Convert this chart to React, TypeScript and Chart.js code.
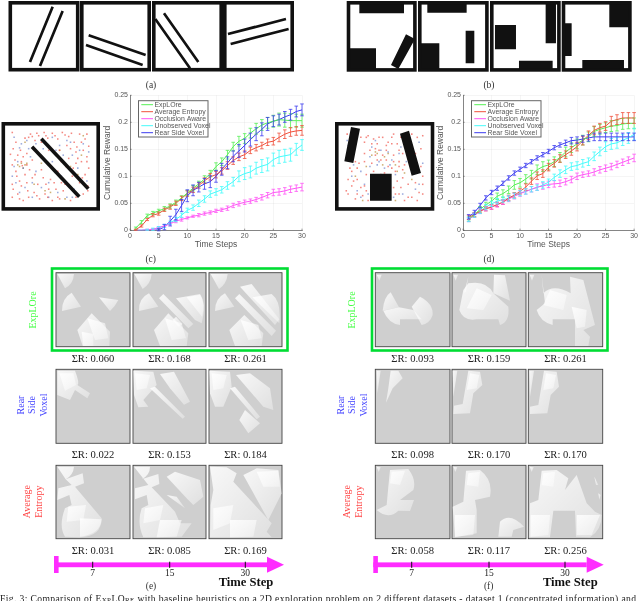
import React, { useEffect, useRef } from "react";
import { Chart, registerables } from "chart.js";

Chart.register(...registerables);

const timeSteps = [1,2,3,4,5,6,7,8,9,10,11,12,13,14,15,16,17,18,19,20,21,22,23,24,25,26,27,28,29,30];
const seriesNames = ["ExpLOre", "Average Entropy", "Occlusion Aware", "Unobserved Voxel", "Rear Side Voxel"];
const seriesColors = ["#55f055", "#f0503c", "#ff55f5", "#44fbfb", "#3c3cf0"];
const yTickLabels: Record<string, string> = { "0": "0", "0.05": "0.05", "0.1": "0.1", "0.15": "0.15", "0.2": "0.2", "0.25": "0.25" };

const cExplore = [.004,.015,.027,.032,.036,.04,.045,.052,.06,.069,.078,.086,.095,.105,.118,.127,.14,.155,.165,.17,.18,.188,.195,.199,.202,.205,.204,.203,.203,.203];
const cEntropy = [.001,.008,.02,.028,.031,.038,.043,.05,.059,.068,.075,.083,.092,.099,.103,.11,.12,.129,.136,.14,.148,.153,.157,.163,.165,.172,.178,.182,.184,.185];
const cOcclusion = [0,0,.001,.002,.005,.008,.012,.017,.02,.023,.026,.028,.031,.033,.036,.038,.041,.046,.049,.052,.054,.057,.061,.065,.07,.071,.073,.076,.078,.08];
const cUnobserved = [0,0,.001,.002,.005,.008,.014,.02,.028,.037,.042,.05,.058,.067,.071,.075,.083,.09,.1,.105,.108,.115,.119,.122,.131,.136,.138,.14,.15,.158];
const cRear = [0,0,0,0,.001,.006,.017,.029,.046,.064,.074,.08,.086,.09,.1,.113,.125,.137,.147,.157,.168,.178,.187,.197,.202,.205,.21,.214,.22,.223];

const cExploreErr = [.002,.003,.003,.003,.003,.004,.004,.004,.004,.005,.005,.005,.006,.006,.007,.007,.008,.008,.009,.009,.009,.01,.01,.01,.011,.012,.013,.013,.012,.012];
const cEntropyErr = [.001,.002,.002,.003,.003,.003,.004,.004,.004,.005,.005,.005,.005,.006,.006,.006,.007,.007,.007,.007,.006,.006,.006,.006,.007,.008,.008,.008,.008,.009];
const cOcclusionErr = [0,0,.001,.001,.002,.002,.002,.003,.003,.002,.002,.003,.003,.003,.003,.003,.004,.004,.004,.004,.004,.004,.005,.005,.006,.006,.006,.006,.006,.007];
const cUnobservedErr = [0,0,.001,.002,.002,.003,.003,.004,.004,.004,.005,.006,.006,.006,.006,.006,.007,.008,.01,.011,.011,.011,.012,.012,.012,.012,.012,.012,.011,.01];
const cRearErr = [0,0,0,0,.002,.005,.009,.01,.011,.011,.01,.009,.01,.011,.011,.011,.011,.01,.012,.012,.012,.012,.012,.012,.01,.01,.01,.01,.01,.011];

const dExplore = [.021,.029,.039,.047,.054,.063,.068,.075,.084,.088,.095,.103,.112,.118,.121,.127,.135,.145,.153,.16,.167,.173,.183,.187,.19,.193,.194,.197,.198,.198];
const dEntropy = [.024,.029,.036,.04,.043,.048,.052,.06,.065,.072,.08,.091,.101,.105,.117,.124,.133,.14,.147,.155,.166,.176,.185,.19,.193,.202,.205,.208,.208,.208];
const dOcclusion = [.02,.028,.035,.04,.043,.047,.052,.058,.063,.068,.072,.076,.08,.082,.085,.086,.087,.09,.094,.1,.103,.105,.108,.112,.115,.118,.122,.126,.13,.134];
const dUnobserved = [.02,.028,.036,.043,.049,.054,.057,.059,.064,.069,.072,.076,.079,.084,.089,.098,.105,.112,.118,.12,.124,.127,.137,.146,.155,.16,.162,.167,.171,.178];
const dRear = [.025,.033,.046,.06,.07,.078,.087,.097,.106,.113,.12,.127,.134,.14,.146,.153,.158,.162,.166,.167,.169,.171,.173,.173,.173,.173,.173,.173,.173,.173];

const dExploreErr = [.004,.004,.005,.005,.006,.006,.007,.007,.008,.008,.008,.008,.009,.009,.009,.009,.009,.009,.009,.009,.009,.009,.009,.009,.009,.01,.01,.01,.01,.01];
const dEntropyErr = [.004,.004,.004,.004,.004,.004,.004,.005,.005,.005,.006,.006,.007,.007,.007,.007,.007,.007,.008,.008,.008,.008,.008,.008,.008,.009,.009,.01,.01,.01];
const dOcclusionErr = [.004,.004,.004,.004,.004,.004,.004,.005,.005,.005,.005,.005,.006,.006,.006,.006,.006,.006,.006,.006,.005,.005,.006,.006,.006,.006,.006,.006,.006,.007];
const dUnobservedErr = [.004,.004,.005,.005,.005,.005,.005,.005,.005,.005,.005,.005,.005,.006,.006,.006,.007,.007,.007,.007,.007,.007,.008,.008,.009,.01,.01,.01,.01,.011];
const dRearErr = [.004,.004,.004,.004,.004,.004,.004,.004,.004,.004,.004,.004,.004,.004,.004,.004,.004,.005,.006,.006,.006,.006,.007,.007,.007,.007,.007,.007,.007,.007];

// scatter positions in percent of the framed map
const cRed = [8,8,12,20,26,14,30,13,33,18,37,12,40,20,43,8,47,15,52,9,58,16,63,8,70,13,76,20,82,10,88,16,92,25,86,30,78,32,72,28,90,38,84,44,78,46,92,52,70,40,67,50,88,60,82,70,91,74,86,84,78,88,72,92,64,80,58,88,52,92,44,84,38,90,32,82,26,88,20,92,14,84,9,78,16,68,22,60,12,56,8,48,18,44,24,48,30,42,24,34,14,36,9,28,30,64,36,72,42,64,48,78,54,70,40,54,58,56,48,30,56,36,62,44,74,62,66,72,
  28,10,35,9,22,15,45,12,55,12,66,11,73,9,84,20,90,10,79,26,68,24,60,30,17,30,11,42,20,38,6,35,19,49,27,54,13,62,8,72,18,74,24,70,33,60,45,72,50,66,56,78,62,70,60,90,47,88,35,86,25,80,16,90,8,88,91,80,85,64,90,44,80,40,75,52];
const cBlue = [10,14,16,27,24,18,34,22,42,28,52,14,60,24,68,18,74,36,86,22,80,52,90,68,76,78,68,88,58,82,48,88,40,76,30,88,22,76,12,70,8,62,20,52,28,38,14,44,52,44,62,62,34,56,
  56,30,64,36,72,20,82,30,18,22,26,28,10,50,92,32,30,70,48,70,74,88,16,82];
const cTan = [16,50,20,52,24,46,72,50,80,60,40,46,50,82,32,72,84,36,60,30,22,20,18,46,22,48,14,48,44,80,66,90,86,12];
const dRed = [9,10,24,14,28,20,32,12,38,16,42,22,48,14,54,20,60,10,68,14,74,24,80,10,86,14,92,12,90,28,84,34,28,34,34,30,40,36,46,42,52,30,60,36,66,44,70,54,62,56,54,50,46,60,38,56,30,60,20,52,14,56,10,66,14,74,10,84,18,90,26,86,32,92,28,74,20,66,64,68,60,76,66,84,72,92,80,88,88,82,92,72,84,70,76,72,70,64,92,62,52,42,44,30,58,22,66,30,22,46,
  30,14,36,22,44,14,52,24,58,14,64,22,70,34,78,44,72,48,66,50,58,52,50,58,42,42,36,46,28,44,18,44,12,52,16,68,8,80,20,84,30,80,90,50,92,84,86,92,76,88,68,76,62,84,24,76,60,44,48,36,40,28];
const dBlue = [9,18,10,24,36,26,46,30,58,42,50,52,42,48,34,50,24,56,16,48,28,72,32,84,20,80,62,60,74,44,68,26,78,20,88,20,92,46,84,78,60,88,
  44,44,56,48,66,34,34,38,14,62,24,88,70,84,88,72,40,18,54,32];
const dTan = [36,36,42,34,54,34,62,48,72,58,48,48,18,62,26,92,62,92,80,66,40,32,50,38,64,56,30,50];

// obstacle outlines, in page pixels
const mapObstaclesC = ["M41.3,138.7L88.3,188.7", "M32,146.7L79.3,196.7"];

const fan = "url(#fan)";

// explored patches, drawn in a 3x grid of each block's origin
const leftTop: string[] = [
  "M172,42L222,42Q220,72 195,85Z",
  "M243,140L215,98Q185,115 186,153Z",
  "M297,112L355,120Q345,140 330,153Z",
  "M275,160L330,215L328,258L248,258L232,210Z",
  "M262,175L315,190L325,235L285,240Z",
  "M245,215L280,222L280,258L250,258Z",
  "M403,42L455,42Q452,72 428,87Z",
  "M475,140L447,100Q415,115 417,153Z",
  "M490,102L580,192L565,205L477,115Z",
  "M528,170L548,192L535,200L518,180Z",
  "M528,115L600,102Q620,130 605,190L585,180Z",
  "M560,112L600,104Q618,130 606,170Z",
  "M505,160L565,220L560,258L480,258L462,210Z",
  "M495,175L545,190L558,235L515,240Z",
  "M632,42L683,42Q680,72 657,87Z",
  "M703,140L675,100Q645,115 645,153Z",
  "M720,80L755,72L838,178L825,195Z",
  "M718,102L828,212L815,228L705,115Z",
  "M757,112L815,102Q845,125 838,190Z",
  "M733,165L790,220L785,258L705,258L688,210Z",
  "M722,180L775,195L785,235L745,240Z",
  "M172,332L225,332Q240,370 232,375L270,400L262,415L225,390L210,420L172,405Z",
  "M178,340L220,340L228,375L195,392Z",
  "M400,332L460,335L470,375L430,420L445,440L415,442L402,405Z",
  "M405,340L450,345L440,385L410,390Z",
  "M480,342L522,335L570,425L552,434L510,385Z",
  "M450,385L465,380L555,470L548,476Z",
  "M628,332L690,335L695,380L670,440L645,440L630,400Z",
  "M635,340L680,345L670,385L640,390Z",
  "M708,345L750,340L810,385L820,450L790,440Z",
  "M690,385L705,380L780,470L770,478Z",
  "M735,450L780,490L745,520L718,480Z",
];
const leftBottom: string[] = [
  "M172,80L222,80Q220,105 197,118L248,100L252,130L225,140L305,235Q305,290 240,292L195,290Q175,260 195,205L215,195L208,165L172,180L175,145L215,135L197,118Z",
  "M205,200L258,195L250,240L200,245Z",
  "M240,235L305,238Q300,285 240,290Z",
  "M402,80L450,80Q450,105 425,118L475,102L478,132L455,142L525,215L540,250L575,250L545,290L430,292Q410,250 425,205L445,195L440,165L405,178L405,145L445,135Z",
  "M435,205L490,195L480,240L430,250Z",
  "M480,240L545,240L530,290L470,292Z",
  "M500,110L525,95L600,120L610,170L580,195L560,175Z",
  "M500,165L530,170L555,205Z",
  "M630,80L680,82L710,100L700,125L815,250L800,275L815,292L630,292L632,195L640,150Z",
  "M640,205L700,195L690,250L640,270Z",
  "M690,240L770,240L760,290L690,292Z",
  "M730,105L770,85L835,90L845,160L805,240Z",
  "M770,95L835,92L840,140L790,140Z",
];
const rightTop: string[] = [
  "M170,44L185,44L178,62Z",
  "M237,142L212,97Q192,110 188,152Z",
  "M190,152L237,142L280,150L305,178L240,178L240,195Q205,190 190,152Z",
  "M275,140L300,110Q340,130 338,165Q330,190 305,195Z",
  "M400,44L414,44L407,62Z",
  "M445,70Q500,60 520,100L565,140Q570,185 540,195L535,178L470,178Q430,185 418,150L430,90Z",
  "M470,85L515,105L490,150L440,145Z",
  "M522,44L555,46L570,122L520,100Z",
  "M438,95L445,50L432,98Z",
  "M629,44L643,44L636,62Z",
  "M665,44L675,130L650,150Q660,185 698,195L698,178L765,178L765,258L805,258L810,230L790,210L825,195L790,60L750,50L752,100Q700,70 670,100Z",
  "M690,90L740,105L730,150L670,135Z",
  "M755,140L800,150L795,200L770,205Z",
];
const rightMiddle: string[] = [
  "M170,332L182,332L172,400Z",
  "M212,332L235,332L248,355L218,385L198,428L205,385Z",
  "M398,332L412,332L400,410Z",
  "M445,332L480,335L487,375L460,400L450,460L400,462L402,437L428,432Z",
  "M450,340L478,345L470,385L440,390Z",
  "M628,332L642,332L630,410Z",
  "M672,332L710,335L717,380L692,405L682,460L630,462L630,440L655,435Z",
  "M678,340L708,345L700,385L670,390Z",
];
const rightBottom: string[] = [
  "M170,80L182,82L176,96Z",
  "M210,90L265,87Q290,120 280,150L240,180L282,180L270,213L235,212Q205,240 170,210L200,195L205,140Z",
  "M215,95L255,92L240,135L210,130Z",
  "M400,80L412,82L406,96Z",
  "M438,92L480,90Q520,120 510,170L465,180L470,210L470,280L405,292L398,200L430,185Z",
  "M445,100L480,95L475,140L440,135Z",
  "M405,225L465,225L460,285L405,290Z",
  "M540,245Q570,215 612,260L580,270L575,290L535,290Z",
  "M629,80L641,82L635,96Z",
  "M665,92L710,90L745,115L735,150L770,105L800,190L825,215L845,225Q845,270 810,292L768,290L765,212L700,212L690,292L628,292L630,190L655,180Z",
  "M670,100L705,95L700,140L665,135Z",
  "M632,225L690,225L685,285L632,290Z",
  "M770,225L840,225L815,285L770,285Z",
  "M823,110L835,135L828,135Z",
  "M835,160L842,165L838,180Z",
];

const panelColumnsLeft = [[56, 130], [133, 206], [209, 282]];
const panelColumnsRight = [[375.3, 450], [452, 526], [528.3, 602.7]];
const panelRows = [[272.7, 346.7], [369.3, 443.3], [465.3, 538.7]];
const scoresLeft = [["0.060", "0.168", "0.261"], ["0.022", "0.153", "0.184"], ["0.031", "0.085", "0.169"]];
const scoresRight = [["0.093", "0.159", "0.261"], ["0.098", "0.170", "0.170"], ["0.058", "0.117", "0.256"]];

const errorBars = {
  id: "errorBars",
  afterDatasetsDraw(chart: any) {
    const { ctx, scales } = chart;
    chart.data.datasets.forEach((ds: any) => {
      ctx.save();
      ctx.strokeStyle = ds.borderColor;
      ctx.lineWidth = 0.8;
      ds.data.forEach((p: any, i: number) => {
        const e = ds.errors[i];
        if (!e) return;
        const x = scales.x.getPixelForValue(p.x);
        const y0 = scales.y.getPixelForValue(p.y - e);
        const y1 = scales.y.getPixelForValue(p.y + e);
        ctx.beginPath();
        ctx.moveTo(x, y0); ctx.lineTo(x, y1);
        ctx.moveTo(x - 1.8, y0); ctx.lineTo(x + 1.8, y0);
        ctx.moveTo(x - 1.8, y1); ctx.lineTo(x + 1.8, y1);
        ctx.stroke();
      });
      ctx.restore();
    });
  },
};

const boxLegend = {
  id: "boxLegend",
  afterDraw(chart: any) {
    const { ctx, chartArea } = chart;
    const left = chartArea.left + 8.5;
    const top = chartArea.top + 5.4;
    ctx.save();
    ctx.fillStyle = "rgba(255,255,255,0.95)";
    ctx.strokeStyle = "#666";
    ctx.lineWidth = 1;
    ctx.fillRect(left, top, 69.5, 36.3);
    ctx.strokeRect(left, top, 69.5, 36.3);
    ctx.font = "6.9px 'Liberation Sans'";
    ctx.textBaseline = "middle";
    chart.data.datasets.forEach((ds: any, i: number) => {
      const y = top + 4 + i * 7;
      ctx.strokeStyle = ds.borderColor;
      ctx.lineWidth = 1;
      ctx.beginPath();
      ctx.moveTo(left + 2.8, y); ctx.lineTo(left + 14.5, y);
      ctx.stroke();
      ctx.fillStyle = "#555";
      ctx.fillText(ds.label, left + 16, y);
    });
    ctx.restore();
  },
};

const innerTicks = {
  id: "innerTicks",
  afterDraw(chart: any) {
    const { ctx, chartArea, scales } = chart;
    ctx.save();
    ctx.strokeStyle = "#555";
    ctx.lineWidth = 0.6;
    ctx.beginPath();
    scales.x.ticks.forEach((t: any) => {
      const x = scales.x.getPixelForValue(t.value);
      ctx.moveTo(x, chartArea.bottom); ctx.lineTo(x, chartArea.bottom - 1.7);
    });
    scales.y.ticks.forEach((t: any) => {
      const y = scales.y.getPixelForValue(t.value);
      ctx.moveTo(chartArea.left, y); ctx.lineTo(chartArea.left + 1.7, y);
    });
    ctx.stroke();
    ctx.restore();
  },
};

function RewardChart({ left, width, paddingRight, series, errors }: { left: number; width: number; paddingRight: number; series: number[][]; errors: number[][] }) {
  const ref = useRef<HTMLCanvasElement>(null);
  useEffect(() => {
    const font = { family: "'Liberation Sans'", size: 7 };
    const grid = { color: "rgba(0,0,0,0.07)", lineWidth: 0.6, drawTicks: false };
    const chart = new Chart(ref.current!, {
      type: "line",
      data: {
        datasets: series.map((values, i) => ({
          label: seriesNames[i],
          data: values.map((y, j) => ({ x: timeSteps[j], y })),
          errors: errors[i],
          borderColor: seriesColors[i],
          borderWidth: 1,
          pointRadius: 0,
          tension: 0,
        })),
      } as any,
      options: {
        animation: false,
        responsive: false,
        maintainAspectRatio: false,
        layout: { padding: { top: 10.3, right: paddingRight, left: 0, bottom: 0 } },
        plugins: { legend: { display: false }, tooltip: { enabled: false } },
        scales: {
          x: {
            type: "linear", min: 0, max: 30,
            grid: grid as any,
            border: { color: "#555", width: 0.7 } as any,
            ticks: { stepSize: 5, color: "#555", font, padding: 2, maxRotation: 0 },
            title: { display: true, text: "Time Steps", color: "#555", font: { family: "'Liberation Sans'", size: 8.5 }, padding: 0 },
            afterFit: (s: any) => { s.height = 19.7; },
          },
          y: {
            min: 0, max: 0.25,
            grid: grid as any,
            border: { color: "#555", width: 0.7 },
            ticks: { stepSize: 0.05, color: "#555", font, padding: 2, callback: (v: any) => yTickLabels[String(Math.round(v * 100) / 100)] },
            title: { display: true, text: "Cumulative Reward", color: "#555", font: { family: "'Liberation Sans'", size: 8.5 }, padding: { top: 8, bottom: 0 } },
            afterFit: (s: any) => { s.width = 35; },
          },
        },
      },
      plugins: [errorBars, innerTicks, boxLegend],
    } as any);
    return () => chart.destroy();
  }, []);
  return <canvas ref={ref} width={width} height={165} style={{ position: "absolute", left, top: 85, width, height: 165 }} />;
}

function pairs(flat: number[]) {
  const out: { x: number; y: number }[] = [];
  for (let i = 0; i + 1 < flat.length; i += 2) out.push({ x: flat[i], y: flat[i + 1] });
  return out;
}

function MapScatter({ left, width, red, blue, tan }: { left: number; width: number; red: number[]; blue: number[]; tan: number[] }) {
  const ref = useRef<HTMLCanvasElement>(null);
  useEffect(() => {
    const mk = (d: number[], c: string) => ({ data: pairs(d), backgroundColor: c, borderWidth: 0, pointRadius: 1.1, pointStyle: "rect" });
    const chart = new Chart(ref.current!, {
      type: "scatter",
      data: { datasets: [mk(red, "rgba(240,90,80,0.72)"), mk(blue, "rgba(95,120,200,0.62)"), mk(tan, "rgba(190,150,70,0.75)")] },
      options: {
        animation: false,
        responsive: false,
        maintainAspectRatio: false,
        plugins: { legend: { display: false }, tooltip: { enabled: false } },
        scales: {
          x: { display: false, min: 0, max: 100 },
          y: { display: false, min: 0, max: 100, reverse: true },
        },
      },
    } as any);
    return () => chart.destroy();
  }, []);
  return <canvas ref={ref} width={width} height={89} style={{ position: "absolute", left, top: 122, width, height: 89 }} />;
}

function Frame({ x, y, w, h, t = 3.6 }: { x: number; y: number; w: number; h: number; t?: number }) {
  return <rect x={x + t / 2} y={y + t / 2} width={w - t} height={h - t} fill="none" stroke="#111" strokeWidth={t} />;
}

function Patches({ ox, oy, paths }: { ox: number; oy: number; paths: string[] }) {
  return (
    <g transform={`translate(${ox},${oy}) scale(${1 / 3})`}>
      {paths.map((d, i) => <path key={i} d={d} fill={fan} />)}
    </g>
  );
}

function Arrow({ x0, x1, ticks, labelX, capX }: { x0: number; x1: number; ticks: number[]; labelX: number; capX: number }) {
  const labels = ["7", "15", "30"];
  return (
    <g>
      <rect x={x0} y={556} width={4.6} height={17} fill="#ff2cff" />
      <rect x={x0} y={562.4} width={x1 - x0} height={4.8} fill="#ff2cff" />
      <polygon points={`${x1},556.7 ${x1 + 17},564.7 ${x1},572.7`} fill="#ff2cff" />
      {ticks.map((t, i) => (
        <g key={i}>
          <rect x={t - 0.5} y={561.7} width={1} height={6.2} fill="#111" />
          <text x={t} y={575.5} textAnchor="middle" fontSize={9.5} fill="#222">{labels[i]}</text>
        </g>
      ))}
      <text x={labelX} y={585.5} textAnchor="middle" fontSize={12.6} fontWeight="bold" fill="#111">Time Step</text>
      <text x={capX} y={589} textAnchor="middle" fontSize={9.5} fill="#333">{capX < 320 ? "(e)" : "(f)"}</text>
    </g>
  );
}

function Score({ cols, rowScores, y }: { cols: number[][]; rowScores: string[]; y: number }) {
  return (
    <g>
      {rowScores.map((s, i) => (
        <text key={i} x={(cols[i][0] + cols[i][1]) / 2} y={y} textAnchor="middle" fontSize={10.6} fill="#222">{`ΣR: ${s}`}</text>
      ))}
    </g>
  );
}

function Side({ x, y, color, text }: { x: number; y: number; color: string; text: string }) {
  return <text transform={`translate(${x},${y}) rotate(-90)`} textAnchor="middle" dominantBaseline="central" fontSize={10} fill={color}>{text}</text>;
}

export default function App() {
  return (
    <div style={{ position: "absolute", left: 0, top: 0, width: 640, height: 601, overflow: "hidden", background: "#fff", filter: "blur(0.3px)" }}>
      <RewardChart left={95} width={215} paddingRight={8} series={[cExplore, cEntropy, cOcclusion, cUnobserved, cRear]} errors={[cExploreErr, cEntropyErr, cOcclusionErr, cUnobservedErr, cRearErr]} />
      <RewardChart left={428} width={212} paddingRight={5} series={[dExplore, dEntropy, dOcclusion, dUnobserved, dRear]} errors={[dExploreErr, dEntropyErr, dOcclusionErr, dUnobservedErr, dRearErr]} />
      <MapScatter left={1} width={99} red={cRed} blue={cBlue} tan={cTan} />
      <MapScatter left={335} width={99} red={dRed} blue={dBlue} tan={dTan} />
      <svg width={640} height={601} style={{ position: "absolute", left: 0, top: 0, pointerEvents: "none" }} fontFamily="'Liberation Serif'">
        <defs>
          <linearGradient id="fan" x1="0" y1="0" x2="1" y2="1">
            <stop offset="0" stopColor="#fff" stopOpacity="0.85" />
            <stop offset="1" stopColor="#fff" stopOpacity="0.35" />
          </linearGradient>
        </defs>

        {/* row (a) */}
        <Frame x={8.5} y={1} w={71} h={70.5} />
        <Frame x={80} y={1} w={71} h={70.5} />
        <Frame x={152} y={1} w={71} h={70.5} />
        <Frame x={223} y={1} w={71} h={70.5} />
        <g stroke="#111" fill="none" transform="scale(0.3333)" style={{ strokeWidth: 8 }}>
          <path d="M158,20L90,186M188,33L120,198" />
          <path d="M266,106L437,165M258,135L428,195" />
          <path d="M492,40L595,186M466,57L570,205" />
          <path d="M684,102L858,57M692,132L866,87" />
        </g>
        <text x={151} y={87.5} textAnchor="middle" fontSize={9.5} fill="#333">(a)</text>

        {/* row (b) */}
        <g transform="translate(320,0) scale(0.3333)" fill="#111">
          <path d="M118,12H252V40H118ZM88,145H168V207H88ZM258,103L285,117L235,207L213,195Z" />
          <path d="M322,12H440V38H322ZM303,130H358V207H303ZM437,92H463V190H437Z" />
          <path d="M525,75H588V148H525ZM677,12H708V130H677ZM597,182H698V207H597Z" />
          <path d="M868,12H927V82H868ZM732,70H755V168H732ZM787,180H912V207H787Z" />
        </g>
        <Frame x={346.7} y={1} w={70} h={70.7} />
        <Frame x={418} y={1} w={70.7} h={70.7} />
        <Frame x={490} y={1} w={70.7} h={70.7} />
        <Frame x={561.7} y={1} w={70} h={70.7} />
        <text x={489} y={87.5} textAnchor="middle" fontSize={9.5} fill="#333">(b)</text>

        {/* maps (c) and (d) */}
        <Frame x={1.5} y={122} w={98.5} h={88.7} t={3.6} />
        <g stroke="#111" strokeWidth={3.6} fill="none">
          {mapObstaclesC.map((d, i) => <path key={i} d={d} />)}
        </g>
        <g transform="translate(335,118) scale(0.3333)" fill="#111">
          <path d="M48,27L75,32L55,135L28,130ZM195,47L222,38L258,165L230,173ZM105,167H170V248H105Z" />
        </g>
        <Frame x={335} y={122} w={99.3} h={88.7} t={3.6} />
        <text x={150.7} y={262} textAnchor="middle" fontSize={9.5} fill="#333">(c)</text>
        <text x={489} y={262} textAnchor="middle" fontSize={9.5} fill="#333">(d)</text>

        {/* green frames */}
        <rect x={52} y={268.5} width={235.5} height={82} fill="none" stroke="#00dd33" strokeWidth={2.6} />
        <rect x={372} y={268.5} width={235.5} height={82} fill="none" stroke="#00dd33" strokeWidth={2.6} />

        {/* exploration panels */}
        {panelRows.map((r, ri) => (
          <g key={ri}>
            {panelColumnsLeft.map((c, ci) => <rect key={ci} x={c[0]} y={r[0]} width={c[1] - c[0]} height={r[1] - r[0]} fill="#cfcfcf" stroke="#444" strokeWidth={0.9} />)}
            {panelColumnsRight.map((c, ci) => <rect key={ci} x={c[0]} y={r[0]} width={c[1] - c[0]} height={r[1] - r[0]} fill="#cfcfcf" stroke="#444" strokeWidth={0.9} />)}
          </g>
        ))}
        <Patches ox={0} oy={260} paths={leftTop} />
        <Patches ox={0} oy={440} paths={leftBottom} />
        <Patches ox={320} oy={260} paths={rightTop} />
        <Patches ox={320} oy={260} paths={rightMiddle} />
        <Patches ox={320} oy={440} paths={rightBottom} />

        <Score cols={panelColumnsLeft} rowScores={scoresLeft[0]} y={361.5} />
        <Score cols={panelColumnsLeft} rowScores={scoresLeft[1]} y={458} />
        <Score cols={panelColumnsLeft} rowScores={scoresLeft[2]} y={553.5} />
        <Score cols={panelColumnsRight} rowScores={scoresRight[0]} y={361.5} />
        <Score cols={panelColumnsRight} rowScores={scoresRight[1]} y={458} />
        <Score cols={panelColumnsRight} rowScores={scoresRight[2]} y={553.5} />

        <Side x={32} y={310} color="#44ff44" text="ExpLOre" />
        <Side x={20} y={405} color="#4444ff" text="Rear" />
        <Side x={31.7} y={405} color="#4444ff" text="Side" />
        <Side x={43.3} y={405} color="#4444ff" text="Voxel" />
        <Side x={26.7} y={501.7} color="#ff4444" text="Average" />
        <Side x={38.3} y={501.7} color="#ff4444" text="Entropy" />
        <Side x={351.5} y={310} color="#44ff44" text="ExpLOre" />
        <Side x={340} y={405} color="#4444ff" text="Rear" />
        <Side x={351.7} y={405} color="#4444ff" text="Side" />
        <Side x={363.3} y={405} color="#4444ff" text="Voxel" />
        <Side x={346.7} y={501.7} color="#ff4444" text="Average" />
        <Side x={358.3} y={501.7} color="#ff4444" text="Entropy" />

        <Arrow x0={54} x1={267} ticks={[92.7, 169.7, 245.3]} labelX={246} capX={151} />
        <Arrow x0={373.3} x1={586.7} ticks={[411.7, 489, 565]} labelX={570.3} capX={488.7} />

        <text x={0} y={602} fontSize={9.6} fill="#222" textLength={636}>
          Fig. 3: Comparison of <tspan style={{ fontVariant: "small-caps" }}>ExpLOre</tspan> with baseline heuristics on a 2D exploration problem on 2 different datasets - dataset 1 (concentrated information) and
        </text>
      </svg>
    </div>
  );
}
